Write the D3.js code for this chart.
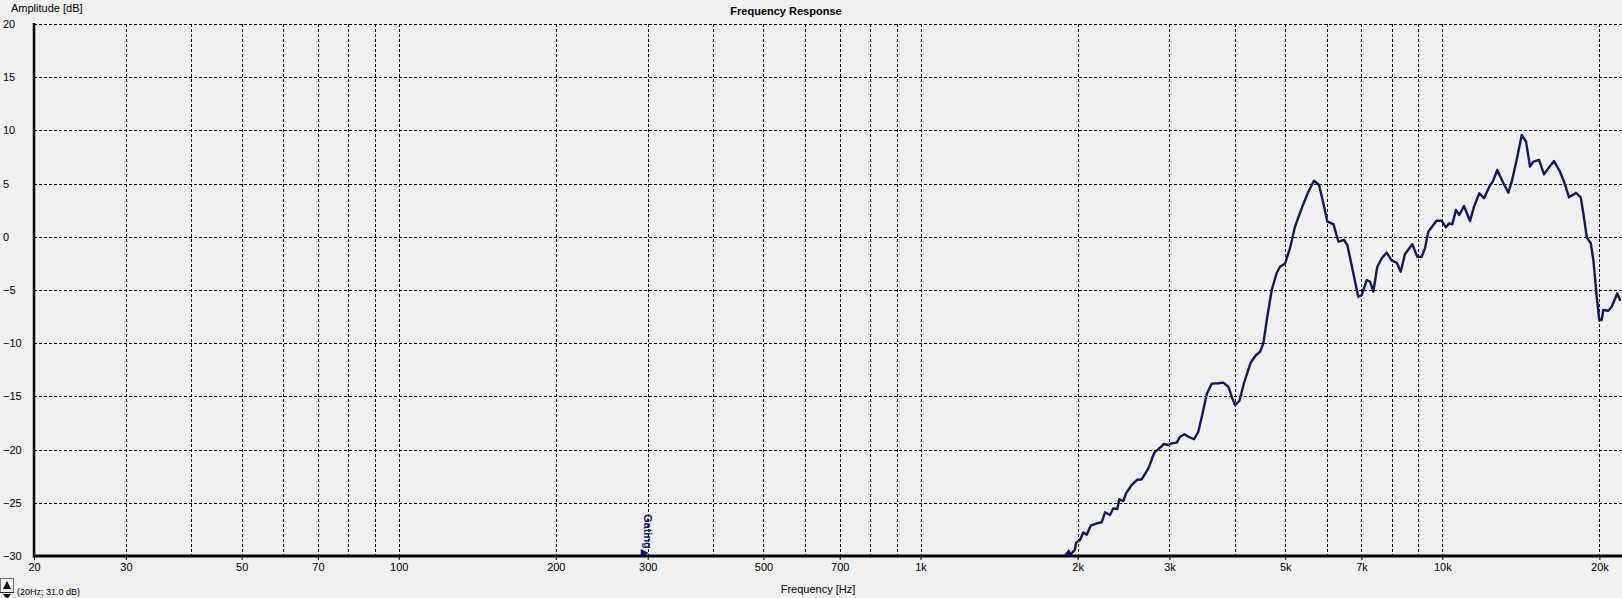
<!DOCTYPE html>
<html>
<head>
<meta charset="utf-8">
<script src="https://cdn.jsdelivr.net/npm/d3@7"></script>
<style>
  html, body { margin: 0; padding: 0; background: #f0f0f0; overflow: hidden; }
  svg { display: block; font-family: "Liberation Sans", Arial, sans-serif; }
</style>
</head>
<body>
<svg id="chart" width="1622" height="598"></svg>
<script>
// ---- data ----
const freqHz = [1917,1977,1986,2021,2051,2082,2119,2176,2224,2257,2307,2341,2383,2404,2447,2476,2539,2596,2654,2733,
  2806,2878,2929,2985,3030,3098,3143,3206,3260,3343,3407,3483,3536,3615,3722,3805,3890,3949,4006,4083,
  4169,4294,4396,4475,4540,4609,4642,4711,4815,4886,4996,5107,5220,5377,5536,5677,5804,5916,6022,6184,
  6322,6480,6576,6752,6902,7007,7164,7269,7375,7506,7654,7825,7999,8177,8323,8482,8759,8954,9130,9264,
  9400,9610,9746,9972,10163,10312,10449,10622,10778,11004,11298,11500,11772,12018,12304,12490,12746,13054,13382,13584,
  13924,14196,14468,14726,14942,15322,15664,15964,16372,16810,17110,17492,17778,18040,18418,18630,18920,19252,19474,19764,
  19992,20204,20348,20802,21116,21644,21904];
const amplitudeDb = [-30.1,-29.4,-28.75,-28.5,-27.8,-28.0,-27.15,-26.93,-26.83,-25.89,-26.15,-25.52,-25.58,-24.67,-24.83,-24.11,-23.33,-22.86,-22.79,-21.76,
  -20.29,-19.82,-19.47,-19.57,-19.41,-19.35,-18.79,-18.56,-18.79,-19.03,-18.32,-16.28,-14.77,-13.8,-13.77,-13.71,-14.09,-15.03,-15.81,-15.43,
  -13.74,-11.81,-11.11,-10.8,-10.01,-7.82,-6.88,-5.0,-3.4,-2.81,-2.51,-1.05,0.95,2.68,4.24,5.27,4.87,3.15,1.42,1.2,
  -0.46,-0.3,-0.77,-3.43,-5.63,-5.47,-4.06,-4.22,-5.16,-2.81,-2.02,-1.49,-2.25,-2.43,-3.28,-1.62,-0.7,-1.87,-1.87,-1.08,
  0.48,1.11,1.51,1.51,0.89,1.27,1.17,2.52,2.05,2.89,1.48,2.83,4.09,3.62,4.71,5.18,6.28,5.18,4.14,5.18,
  7.53,9.57,8.94,6.59,7.06,7.22,5.87,6.44,7.12,6.12,5.18,3.71,3.93,4.14,3.71,2.21,-0.08,-0.61,-2.18,-5.63,
  -7.82,-7.82,-6.88,-6.95,-6.57,-5.31,-5.94];

const xGridHz = [20,30,40,50,60,70,80,90,100,200,300,400,500,600,700,800,900,1000,2000,3000,4000,5000,6000,7000,8000,9000,10000,20000];
const xTickHz = [20,30,50,70,100,200,300,500,700,1000,2000,3000,5000,7000,10000,20000];
const xTickLabels = ["20","30","50","70","100","200","300","500","700","1k","2k","3k","5k","7k","10k","20k"];
const yTickDb = [20,15,10,5,0,-5,-10,-15,-20,-25,-30];
const gatingHz = 300;

const titleText = "Frequency Response";
const xAxisTitle = "Frequency [Hz]";
const yAxisTitle = "Amplitude [dB]";
const cursorText = "(20Hz; 31.0 dB)";

(function () {
// ---- layout ----
const W = 1622, H = 598;
const pLeft = 34, pTop = 24, pBottom = 556, pRight = 1621;
const lineColor = "#15156a";

const svg = d3.select("#chart");
svg.append("rect").attr("width", W).attr("height", H).attr("fill", "#f0f0f0");

const x = d3.scaleLog().domain([20, 22000]).range([pLeft, pRight]);
const y = d3.scaleLinear().domain([-30, 20]).range([pBottom, pTop]);

// grid
const grid = svg.append("g").attr("stroke", "#000").attr("stroke-width", 1)
  .attr("stroke-dasharray", "3,2").attr("shape-rendering", "crispEdges");
grid.selectAll("line.v").data(xGridHz.slice(1)).join("line")
  .attr("x1", d => Math.round(x(d)) + 0.5).attr("x2", d => Math.round(x(d)) + 0.5)
  .attr("y1", pTop).attr("y2", pBottom);
grid.selectAll("line.h").data(yTickDb.filter(d => d !== -30)).join("line")
  .attr("x1", pLeft).attr("x2", W)
  .attr("y1", d => Math.round(y(d)) + 0.5).attr("y2", d => Math.round(y(d)) + 0.5);

// x axis labels via d3 axis
const xAxis = d3.axisBottom(x).tickValues(xTickHz)
  .tickFormat((d, i) => xTickLabels[i]).tickSize(4).tickPadding(3);
const gx = svg.append("g").attr("transform", `translate(0,${pBottom})`).call(xAxis);
gx.select(".domain").remove();
gx.selectAll(".tick line").attr("stroke", "#000");
gx.selectAll(".tick text").attr("font-size", 11).attr("fill", "#000")
  .attr("font-family", "Liberation Sans, Arial, sans-serif");

// y axis labels
const yAxis = d3.axisLeft(y).tickValues(yTickDb).tickFormat(d3.format("d")).tickSize(0);
const gy = svg.append("g").attr("transform", `translate(${pLeft},0)`).call(yAxis);
gy.select(".domain").remove();
gy.selectAll(".tick text").attr("font-size", 11).attr("fill", "#000")
  .attr("text-anchor", "start").attr("x", 3 - pLeft)
  .attr("font-family", "Liberation Sans, Arial, sans-serif");

// axis lines
svg.append("line").attr("x1", pLeft).attr("x2", pLeft).attr("y1", pTop - 1).attr("y2", pBottom + 1.5)
  .attr("stroke", "#000").attr("stroke-width", 2.5);
svg.append("line").attr("x1", pLeft - 1).attr("x2", W).attr("y1", pBottom).attr("y2", pBottom)
  .attr("stroke", "#000").attr("stroke-width", 3);

// curve
svg.append("clipPath").attr("id", "plotclip").append("rect")
  .attr("x", pLeft).attr("y", pTop - 5).attr("width", W - pLeft).attr("height", pBottom - pTop + 5);
const pts = freqHz.map((f, i) => [f, amplitudeDb[i]]);
const line = d3.line().x(d => x(d[0])).y(d => y(d[1]));
svg.append("path").attr("clip-path", "url(#plotclip)")
  .attr("d", line(pts)).attr("fill", "none").attr("stroke", lineColor)
  .attr("stroke-width", 2.4).attr("stroke-linejoin", "round").attr("stroke-linecap", "round");
// small marker where the curve meets the bottom
const sx = x(freqHz[0]);
svg.append("path").attr("d", `M${sx - 4},${pBottom - 1} L${sx + 1},${pBottom - 7} L${sx + 4},${pBottom - 1} Z`)
  .attr("fill", lineColor);

// gating marker
const gxPos = x(gatingHz);
svg.append("text").attr("transform", `translate(${gxPos - 4},${514}) rotate(90)`)
  .attr("font-size", 11).attr("font-weight", "bold").attr("fill", lineColor)
  .text("Gating");
svg.append("path").attr("d", `M${gxPos - 7},${pBottom - 7} L${gxPos + 1},${pBottom - 3} L${gxPos - 7},${pBottom + 1} Z`)
  .attr("fill", lineColor);

// titles
svg.append("text").attr("x", 786).attr("y", 15).attr("text-anchor", "middle")
  .attr("font-size", 11).attr("font-weight", "bold").attr("fill", "#000").text(titleText);
svg.append("text").attr("x", 11).attr("y", 12)
  .attr("font-size", 11).attr("fill", "#000").text(yAxisTitle);
svg.append("text").attr("x", 818).attr("y", 593).attr("text-anchor", "middle")
  .attr("font-size", 11).attr("fill", "#000").text(xAxisTitle);

// bottom-left cursor widget
svg.append("rect").attr("x", 0.5).attr("y", 578.5).attr("width", 13).attr("height", 14)
  .attr("fill", "#f0f0f0").attr("stroke", "#777");
svg.append("line").attr("x1", 0).attr("x2", 14).attr("y1", 592.5).attr("y2", 592.5).attr("stroke", "#222");
svg.append("path").attr("d", "M3,589 L7,581 L11,589 Z").attr("fill", "#000");
svg.append("path").attr("d", "M3,594 L7,599 L11,594 Z").attr("fill", "#000");
svg.append("text").attr("x", 17).attr("y", 595).attr("font-size", 9).attr("fill", "#000").text(cursorText);
})();
</script>
</body>
</html>
